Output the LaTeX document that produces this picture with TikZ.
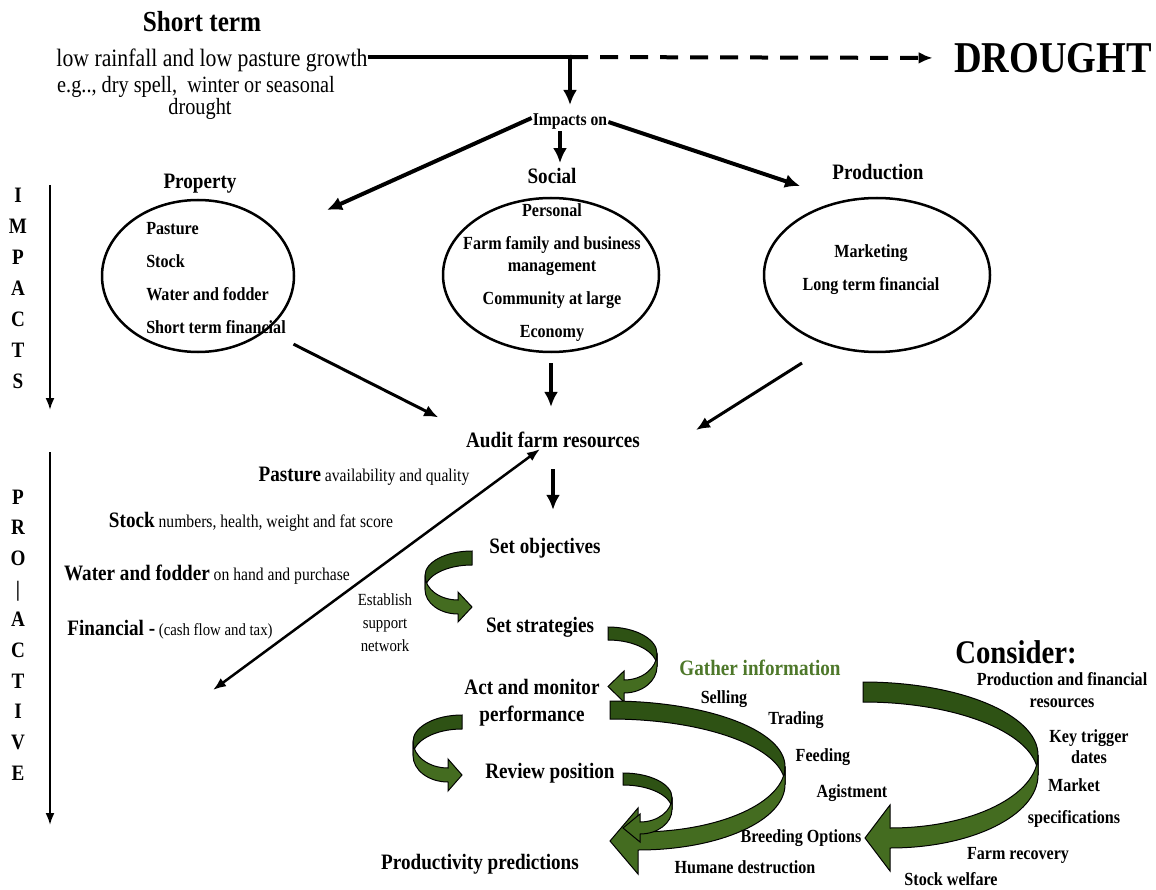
\documentclass[tikz,border=0pt]{standalone}
\usepackage{fontspec}
\setmainfont{Liberation Serif}[FakeStretch=0.87]
\usetikzlibrary{arrows.meta,shapes.geometric}

\definecolor{leafdark}{RGB}{46,82,20}
\definecolor{leaf}{RGB}{68,108,32}
\definecolor{gathergreen}{RGB}{78,120,42}

\newcommand{\kw}[1]{{\fontsize{22}{26}\selectfont\bfseries #1}}

% green turning arrow: top x, bottom x, apex x, top y, bottom y, band, head length, barb
\newcommand{\greenturn}[8]{%
  \pgfmathsetmacro{\gs}{sign(#3-#1)}%
  \pgfmathsetmacro{\gra}{abs(#3-#1)}%
  \pgfmathsetmacro{\grb}{abs(#3-#2)}%
  \pgfmathsetmacro{\gv}{(#5-#4)/2}%
  \pgfmathsetmacro{\gmid}{-90+90*\gs}%
  \pgfmathsetmacro{\gend}{-90+180*\gs}%
  \filldraw[turnback] (#1,#4) arc[start angle=-90, end angle=\gmid, x radius=\gra, y radius=\gv]
    -- ++(0,#6) arc[start angle=\gmid, end angle=-90, x radius=\gra, y radius=\gv] -- cycle;
  \filldraw[turnfront] (#3,{#4+\gv}) arc[start angle=\gmid, end angle=\gend, x radius=\grb, y radius=\gv]
    -- ++(0,-#8) -- ++({-\gs*#7},{#8+#6/2}) -- ++({\gs*#7},{#8+#6/2}) -- ++(0,-#8)
    arc[start angle=\gend, end angle=\gmid, x radius=\grb, y radius=\gv] -- cycle;
}

\tikzset{
  lbl/.style={font=\fontsize{22}{26}\selectfont\bfseries, inner sep=1pt},
  item/.style={font=\fontsize{18.5}{22}\selectfont\bfseries, inner sep=1pt},
  note/.style={font=\fontsize{18}{22}\selectfont, inner sep=1pt},
  oval/.style={draw, ellipse, line width=2.5pt, inner sep=0pt},
  heavy/.style={line width=4pt, -{Latex[length=15pt,width=14pt]}},
  medium/.style={line width=3pt, -{Latex[length=14pt,width=12pt]}},
  slim/.style={line width=2pt, -{Latex[length=12pt,width=9pt]}},
  turnback/.style={fill=leafdark, draw=black, line width=1pt},
  turnfront/.style={fill=leaf, draw=black, line width=1pt},
}

\begin{document}
\begin{tikzpicture}[x=1pt, y=-1pt]
  \useasboundingbox (0,0) rectangle (1156,890);

  % cause and drought
  \node[font=\fontsize{29}{32}\selectfont\bfseries] (short) at (202,22) {Short term};
  \node[font=\fontsize{25}{28}\selectfont, inner sep=0pt] (rain) at (212,60) {low rainfall and low pasture growth};
  \node[font=\fontsize{23.3}{16}\selectfont, inner sep=0pt] (eg) at (196,87) {e.g.., dry spell,~ winter or seasonal};
  \node[font=\fontsize{23.3}{16}\selectfont, inner sep=0pt] (eg2) at (200,109) {drought};
  \node[font=\fontsize{44}{48}\selectfont\bfseries] (drought) at (1053,58) {DROUGHT};
  \coordinate (split) at (570,57);

  \draw[line width=4pt] (rain.east |- split) -- (split);
  \draw[line width=4pt, dash pattern=on 18pt off 12pt, -{Latex[length=14pt,width=12pt]}, shorten >=18pt] (split) -- (drought.west);

  % impacts
  \node[font=\fontsize{18}{20}\selectfont\bfseries, inner sep=1pt] (impacts) at (570,122) {Impacts on};
  \draw[heavy, shorten >=8pt] (split) -- (split |- impacts.north);

  \node[lbl] (proplab) at (200,184) {Property};
  \node[lbl] (soclab) at (552,176) {Social};
  \node[lbl] (prodlab) at (878,172) {Production};
  \coordinate (toprop) at (327,210);
  \coordinate (toprod) at (800,186);
  \draw[heavy] ([yshift=4pt]impacts.west) -- (toprop);
  \draw[heavy, shorten >=4pt] ([xshift=-10pt]impacts.south) -- ([xshift=8pt]soclab.north);
  \draw[heavy] (impacts.east) -- (toprod);

  \node[oval, minimum width=192pt, minimum height=152pt] (prop) at (198,276) {};
  \node[oval, minimum width=216pt, minimum height=154pt] (soc) at (551,275) {};
  \node[oval, minimum width=226pt, minimum height=154pt] (prod) at (877,275) {};

  \node[item, align=left, font=\fontsize{18.5}{33}\selectfont\bfseries] (propitems) at (216,278)
    {Pasture\\Stock\\Water and fodder\\Short term financial};
  \node[item, align=center] (socitems) at (552,273)
    {Personal\\[11pt]Farm family and business\\management\\[11pt]Community at large\\[11pt]Economy};
  \node[item, align=center, font=\fontsize{18.5}{33}\selectfont\bfseries] (proditems) at (871,270)
    {Marketing\\Long term financial};

  % audit
  \node[lbl] (audit) at (553,440) {Audit farm resources};
  \coordinate (prodfoot) at (802,363);
  \coordinate (intoaudit) at (696,430);
  \draw[medium, shorten <=30pt, shorten >=30pt] (prop.south east) -- (audit.north west);
  \draw[heavy, shorten <=10pt, shorten >=24pt] (soc.south) -- (soc.south |- audit.north);
  \draw[medium] (prodfoot) -- (intoaudit);

  % side headings
  \node[lbl, align=center, font=\fontsize{22}{31}\selectfont\bfseries] (impword) at (18,288) {I\\M\\P\\A\\C\\T\\S};
  \node[lbl, align=center, font=\fontsize{22}{30.7}\selectfont\bfseries] (proword) at (18,635) {P\\R\\O\\|\\A\\C\\T\\I\\V\\E};
  \coordinate (imptop) at (50,185);
  \coordinate (impbot) at (50,410);
  \coordinate (protop) at (50,452);
  \coordinate (probot) at (50,825);
  \draw[slim] (imptop) -- (impbot);
  \draw[slim] (protop) -- (probot);

  % resources to check
  \node[note] (pas) at (364,476) {\kw{Pasture} availability and quality};
  \node[note] (stk) at (251,522) {\kw{Stock} numbers, health, weight and fat score};
  \node[note] (wat) at (207,575) {\kw{Water and fodder} on hand and purchase};
  \node[note, font=\fontsize{17}{22}\selectfont] (fin) at (170,630) {\kw{Financial -} (cash flow and tax)};
  \node[note, align=center, font=\fontsize{17}{23}\selectfont] (est) at (385,623) {Establish\\support\\network};
  \coordinate (netend) at (213,690);
  \draw[line width=2.5pt, {Latex[length=13pt,width=10pt]}-{Latex[length=13pt,width=10pt]}] (netend) -- ([xshift=-13pt]audit.south);

  % planning steps
  \node[lbl] (setobj) at (545,548) {Set objectives};
  \node[lbl] (setstr) at (540,627) {Set strategies};
  \node[lbl, align=center, font=\fontsize{22}{27}\selectfont\bfseries] (act) at (532,703) {Act and monitor\\performance};
  \node[lbl] (review) at (550,773) {Review position};
  \node[lbl] (predict) at (480,864) {Productivity predictions};
  \draw[heavy, shorten <=20pt, shorten >=27pt] (audit.south) -- (audit.south |- setobj.north);

  \greenturn{472}{458}{425}{551}{600}{14}{14}{8}
  \greenturn{608}{624}{657}{627}{680}{13}{16}{9}
  \greenturn{462}{448}{413}{715}{768}{14}{14}{9}
  \greenturn{610}{638}{785}{701}{832}{18}{28}{24}
  \greenturn{623}{640}{672}{773}{822}{12}{17}{8}
  \greenturn{863}{890}{1038}{682}{828}{20}{25}{23}

  % options
  \node[lbl, text=gathergreen] (gather) at (760,668) {Gather information};
  \node[item] (sell) at (724,699) {Selling};
  \node[item] (trade) at (796,720) {Trading};
  \node[item] (feed) at (823,757) {Feeding};
  \node[item] (agist) at (852,793) {Agistment};
  \node[item] (breed) at (801,838) {Breeding Options};
  \node[item] (humane) at (745,867) {Humane destruction};

  % things to consider
  \node[font=\fontsize{33}{36}\selectfont\bfseries] (consider) at (1016,652) {Consider:};
  \node[item, align=center] (resources) at (1062,690) {Production and financial\\resources};
  \node[item, align=center, font=\fontsize{18.5}{21}\selectfont\bfseries] (trigger) at (1089,747) {Key trigger\\dates};
  \node[item, align=center, font=\fontsize{18.5}{32}\selectfont\bfseries] (market) at (1074,803) {Market\\specifications};
  \node[item] (recovery) at (1018,855) {Farm recovery};
  \node[item, inner sep=0pt] (welfare) at (951,879) {Stock welfare};
\end{tikzpicture}
\end{document}
